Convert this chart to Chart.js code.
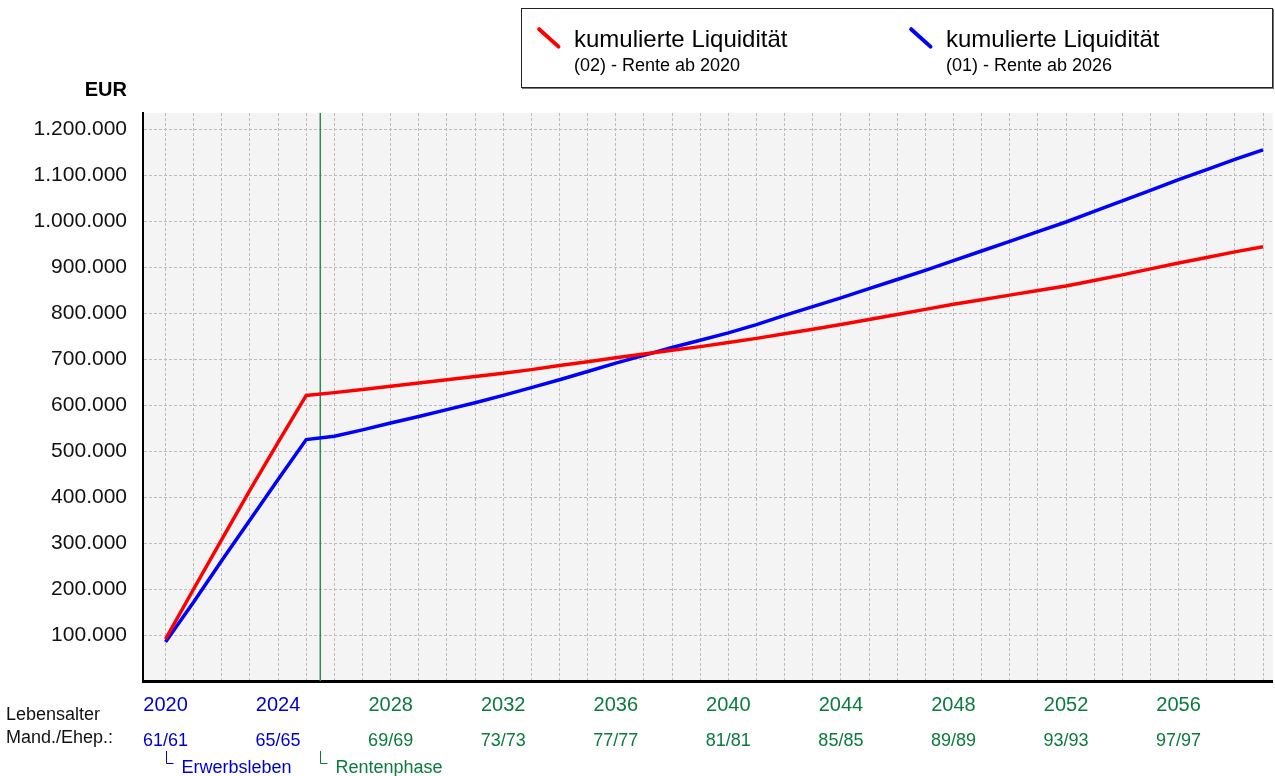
<!DOCTYPE html>
<html lang="de">
<head>
<meta charset="utf-8">
<title>kumulierte Liquidität</title>
<script src="https://cdn.jsdelivr.net/npm/chart.js@4.4.1/dist/chart.umd.min.js"></script>
<style>
  html, body { margin: 0; padding: 0; background: #fff; }
  #wrap { position: relative; width: 1275px; height: 776px; font-family: "Liberation Sans", Arial, sans-serif; }
  #chart { position: absolute; left: 0; top: 0; }
  #legende { position: absolute; left: 521px; top: 8px; width: 750px; height: 78px; border: 1px solid #222; box-shadow: 1px 1px 0 #777; background: #fff; }
  .strich { position: absolute; width: 30px; height: 3.5px; border-radius: 2px; transform: rotate(42deg); }
  .titel { position: absolute; top: 18px; font-size: 24px; line-height: 24px; white-space: nowrap; color: #000; }
  .unter { position: absolute; top: 47px; font-size: 18px; line-height: 18px; white-space: nowrap; color: #000; }
</style>
</head>
<body>
<div id="wrap">
  <canvas id="chart" width="1275" height="776"></canvas>
  <div id="legende"></div>
</div>
<script>
// Jahre (x-Achse) und Werte der beiden Varianten
const jahre = [2020, 2021, 2022, 2023, 2024, 2025, 2026, 2027, 2028, 2029,
               2030, 2031, 2032, 2033, 2034, 2035, 2036, 2037, 2038, 2039,
               2040, 2041, 2042, 2043, 2044, 2045, 2046, 2047, 2048, 2049,
               2050, 2051, 2052, 2053, 2054, 2055, 2056, 2057, 2058, 2059];

// (02) - Rente ab 2020
const liquiditaet02 = [91000, 200000, 308000, 415000, 519000, 621000, 627000, 634000, 641000, 648000,
                       655000, 662000, 669000, 677000, 686000, 694000, 703000, 711000, 719000, 727000,
                       736000, 745000, 755000, 765000, 775000, 786000, 797000, 808000, 819000, 829000,
                       839000, 849000, 859000, 871000, 883000, 896000, 909000, 921000, 933000, 944000];

// (01) - Rente ab 2026
const liquiditaet01 = [85000, 172000, 262000, 350000, 438000, 525000, 532000, 546000, 561000, 575000,
                       590000, 605000, 621000, 638000, 655000, 673000, 691000, 708000, 725000, 741000,
                       757000, 775000, 795000, 814000, 833000, 853000, 873000, 893000, 914000, 935000,
                       956000, 977000, 998000, 1021000, 1044000, 1067000, 1090000, 1112000, 1134000, 1155000];

const yTicks = [100000, 200000, 300000, 400000, 500000, 600000, 700000, 800000, 900000, 1000000, 1100000, 1200000];
const beschriftungsJahre = [2020, 2024, 2028, 2032, 2036, 2040, 2044, 2048, 2052, 2056];
const geburtsjahr = 1959;     // Lebensalter = Jahr - 1959
const phasenWechsel = 2025.5; // Übergang Erwerbsleben -> Rentenphase

const serien = [
    { label: 'kumulierte Liquidität', unter: '(02) - Rente ab 2020', werte: liquiditaet02, farbe: '#ff0000' },
    { label: 'kumulierte Liquidität', unter: '(01) - Rente ab 2026', werte: liquiditaet01, farbe: '#0000ff' }
];

const BLAU = '#0000cc';
const GRUEN = '#0b7a3e';
const SCHRIFT = '"Liberation Sans", Arial, sans-serif';
const RASTER = '#bcbcbc';

function farbeFuerJahr(j) {
    return j < phasenWechsel ? BLAU : GRUEN;
}

function tausender(v) {
    return String(v).replace(/\B(?=(\d{3})+(?!\d))/g, '.');
}

// Hintergrund der Zeichenfläche
const hintergrund = {
    id: 'hintergrund',
    beforeDraw(chart) {
        const { ctx, chartArea: a } = chart;
        ctx.save();
        ctx.fillStyle = '#f4f4f4';
        ctx.fillRect(a.left, a.top, a.right - a.left, a.bottom - a.top);
        ctx.restore();
    }
};

// Grüne Linie beim Beginn der Rentenphase
const phasenLinie = {
    id: 'phasenLinie',
    beforeDatasetsDraw(chart) {
        const { ctx, chartArea: a, scales } = chart;
        const px = scales.x.getPixelForValue(phasenWechsel);
        ctx.save();
        ctx.strokeStyle = '#2f8a57';
        ctx.lineWidth = 1.5;
        ctx.beginPath();
        ctx.moveTo(px, a.top);
        ctx.lineTo(px, a.bottom);
        ctx.stroke();
        ctx.restore();
    }
};

// Zusätzliche Beschriftungen (EUR, Lebensalter, Phasen)
const beschriftung = {
    id: 'beschriftung',
    afterDraw(chart) {
        const { ctx, chartArea: a, scales } = chart;
        ctx.save();
        ctx.textBaseline = 'middle';

        ctx.fillStyle = '#000';
        ctx.font = 'bold 20px ' + SCHRIFT;
        ctx.textAlign = 'right';
        ctx.fillText('EUR', a.left - 16, 90);

        ctx.font = '18px ' + SCHRIFT;
        ctx.textAlign = 'left';
        ctx.fillStyle = '#111';
        ctx.fillText('Lebensalter', 6, 715);
        ctx.fillText('Mand./Ehep.:', 6, 738);

        const phasen = [
            { wert: jahre[0], text: 'Erwerbsleben', farbe: BLAU },
            { wert: phasenWechsel, text: 'Rentenphase', farbe: GRUEN }
        ];
        phasen.forEach(p => {
            const px = Math.round(scales.x.getPixelForValue(p.wert)) + 0.5;
            ctx.strokeStyle = p.farbe;
            ctx.lineWidth = 1;
            ctx.beginPath();
            ctx.moveTo(px, 751);
            ctx.lineTo(px, 763.5);
            ctx.lineTo(px + 7, 763.5);
            ctx.stroke();
            ctx.fillStyle = p.farbe;
            ctx.fillText(p.text, px + 15, 768);
        });
        ctx.restore();
    }
};

const ctx = document.getElementById('chart');
new Chart(ctx, {
    type: 'line',
    data: {
        datasets: serien.map(s => ({
            label: s.label,
            data: jahre.map((j, i) => ({ x: j, y: s.werte[i] })),
            borderColor: s.farbe,
            backgroundColor: s.farbe,
            borderWidth: 3.5,
            pointRadius: 0,
            tension: 0,
            fill: false
        }))
    },
    options: {
        responsive: false,
        animation: false,
        devicePixelRatio: 1,
        layout: { padding: { top: 113, right: 0, bottom: 25, left: 0 } },
        plugins: {
            legend: { display: false },
            tooltip: { enabled: false }
        },
        scales: {
            x: {
                type: 'linear',
                position: 'bottom',
                weight: 0,
                min: 2019.2,
                max: 2059.35,
                afterBuildTicks: s => { s.ticks = jahre.map(v => ({ value: v })); },
                afterFit: s => { s.height = 40; },
                grid: { color: RASTER, lineWidth: 1, drawTicks: false },
                border: { color: '#000', width: 3, dash: [3, 2] },
                ticks: {
                    autoSkip: false,
                    maxRotation: 0,
                    padding: 12,
                    font: { family: SCHRIFT, size: 20 },
                    color: c => farbeFuerJahr(c.tick.value),
                    callback: v => beschriftungsJahre.includes(v) ? String(v) : ''
                }
            },
            x2: {
                type: 'linear',
                position: 'bottom',
                weight: 1,
                min: 2019.2,
                max: 2059.35,
                afterBuildTicks: s => { s.ticks = jahre.map(v => ({ value: v })); },
                afterFit: s => { s.height = 30; },
                grid: { display: false, drawTicks: false },
                border: { display: false },
                ticks: {
                    autoSkip: false,
                    maxRotation: 0,
                    padding: 9,
                    font: { family: SCHRIFT, size: 18 },
                    color: c => farbeFuerJahr(c.tick.value),
                    callback: v => {
                        if (!beschriftungsJahre.includes(v)) return '';
                        const alter = v - geburtsjahr;
                        return alter + '/' + alter;
                    }
                }
            },
            y: {
                min: 0,
                max: 1235000,
                afterBuildTicks: s => { s.ticks = yTicks.map(v => ({ value: v })); },
                afterFit: s => { s.width = 143; },
                grid: { color: RASTER, lineWidth: 1, drawTicks: false },
                border: { color: '#000', width: 2, dash: [3, 2] },
                ticks: {
                    padding: 16,
                    font: { family: SCHRIFT, size: 21 },
                    color: '#111',
                    callback: v => tausender(v)
                }
            }
        }
    },
    plugins: [hintergrund, phasenLinie, beschriftung]
});

// Legende als HTML-Kasten
const legende = document.getElementById('legende');
serien.forEach((s, i) => {
    const links = i === 0 ? 12 : 384;
    const strich = document.createElement('div');
    strich.className = 'strich';
    strich.style.left = links + 'px';
    strich.style.top = '27px';
    strich.style.background = s.farbe;
    legende.appendChild(strich);

    const titel = document.createElement('div');
    titel.className = 'titel';
    titel.style.left = (links + 40) + 'px';
    titel.textContent = s.label;
    legende.appendChild(titel);

    const unter = document.createElement('div');
    unter.className = 'unter';
    unter.style.left = (links + 40) + 'px';
    unter.textContent = s.unter;
    legende.appendChild(unter);
});
</script>
</body>
</html>
